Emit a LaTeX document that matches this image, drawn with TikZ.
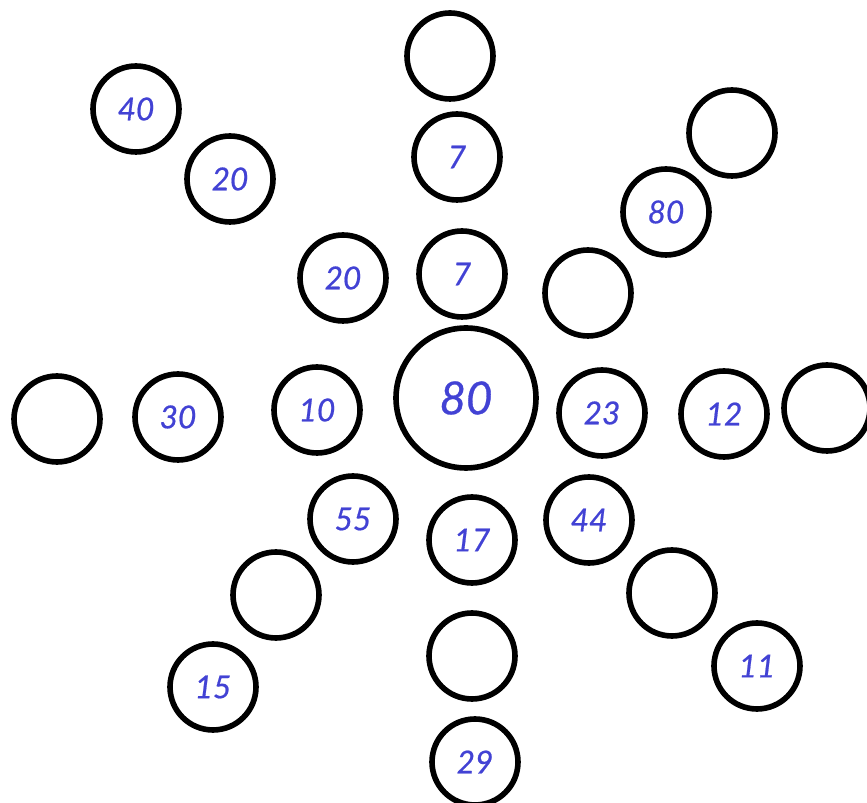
\documentclass[tikz,border=0pt]{standalone}
\usepackage{fontspec}
\setmainfont{Lato}[ItalicFeatures={FakeBold=0.6}]
\definecolor{digitblue}{RGB}{66,66,212}
\tikzset{
  ring/.style={circle, draw, line width=3.2pt, minimum size=1.72cm, inner sep=0pt,
    text=digitblue, font=\itshape\fontsize{18}{18}\selectfont},
  bigring/.style={ring, minimum size=2.8cm, font=\itshape\fontsize{26}{26}\selectfont}
}
\begin{document}
\begin{tikzpicture}[x=0.02cm,y=-0.02cm]
    \useasboundingbox (0,0) rectangle (867,803);

    % centre
    \node[bigring] (hub) at (466,398) {80};

    % upward arm
    \node[ring] (upa) at (462,274) {7};
    \node[ring] (upb) at (457,157) {7};
    \node[ring] (upc) at (450,56) {};

    % downward arm
    \node[ring] (dna) at (472,540) {17};
    \node[ring] (dnb) at (472,656) {};
    \node[ring] (dnc) at (475,762) {29};

    % left arm
    \node[ring] (lfa) at (317,410) {10};
    \node[ring] (lfb) at (178,417) {30};
    \node[ring] (lfc) at (57,419) {};

    % right arm
    \node[ring] (rta) at (602,413) {23};
    \node[ring] (rtb) at (724,414) {12};
    \node[ring] (rtc) at (827,408) {};

    % upper left arm
    \node[ring] (ula) at (343,278) {20};
    \node[ring] (ulb) at (230,179) {20};
    \node[ring] (ulc) at (136,109) {40};

    % upper right arm
    \node[ring] (ura) at (588,293) {};
    \node[ring] (urb) at (666,212) {80};
    \node[ring] (urc) at (732,133) {};

    % lower left arm
    \node[ring] (lla) at (353,519) {55};
    \node[ring] (llb) at (276,595) {};
    \node[ring] (llc) at (213,687) {15};

    % lower right arm
    \node[ring] (lra) at (589,520) {44};
    \node[ring] (lrb) at (672,593) {};
    \node[ring] (lrc) at (757,666) {11};
\end{tikzpicture}
\end{document}
